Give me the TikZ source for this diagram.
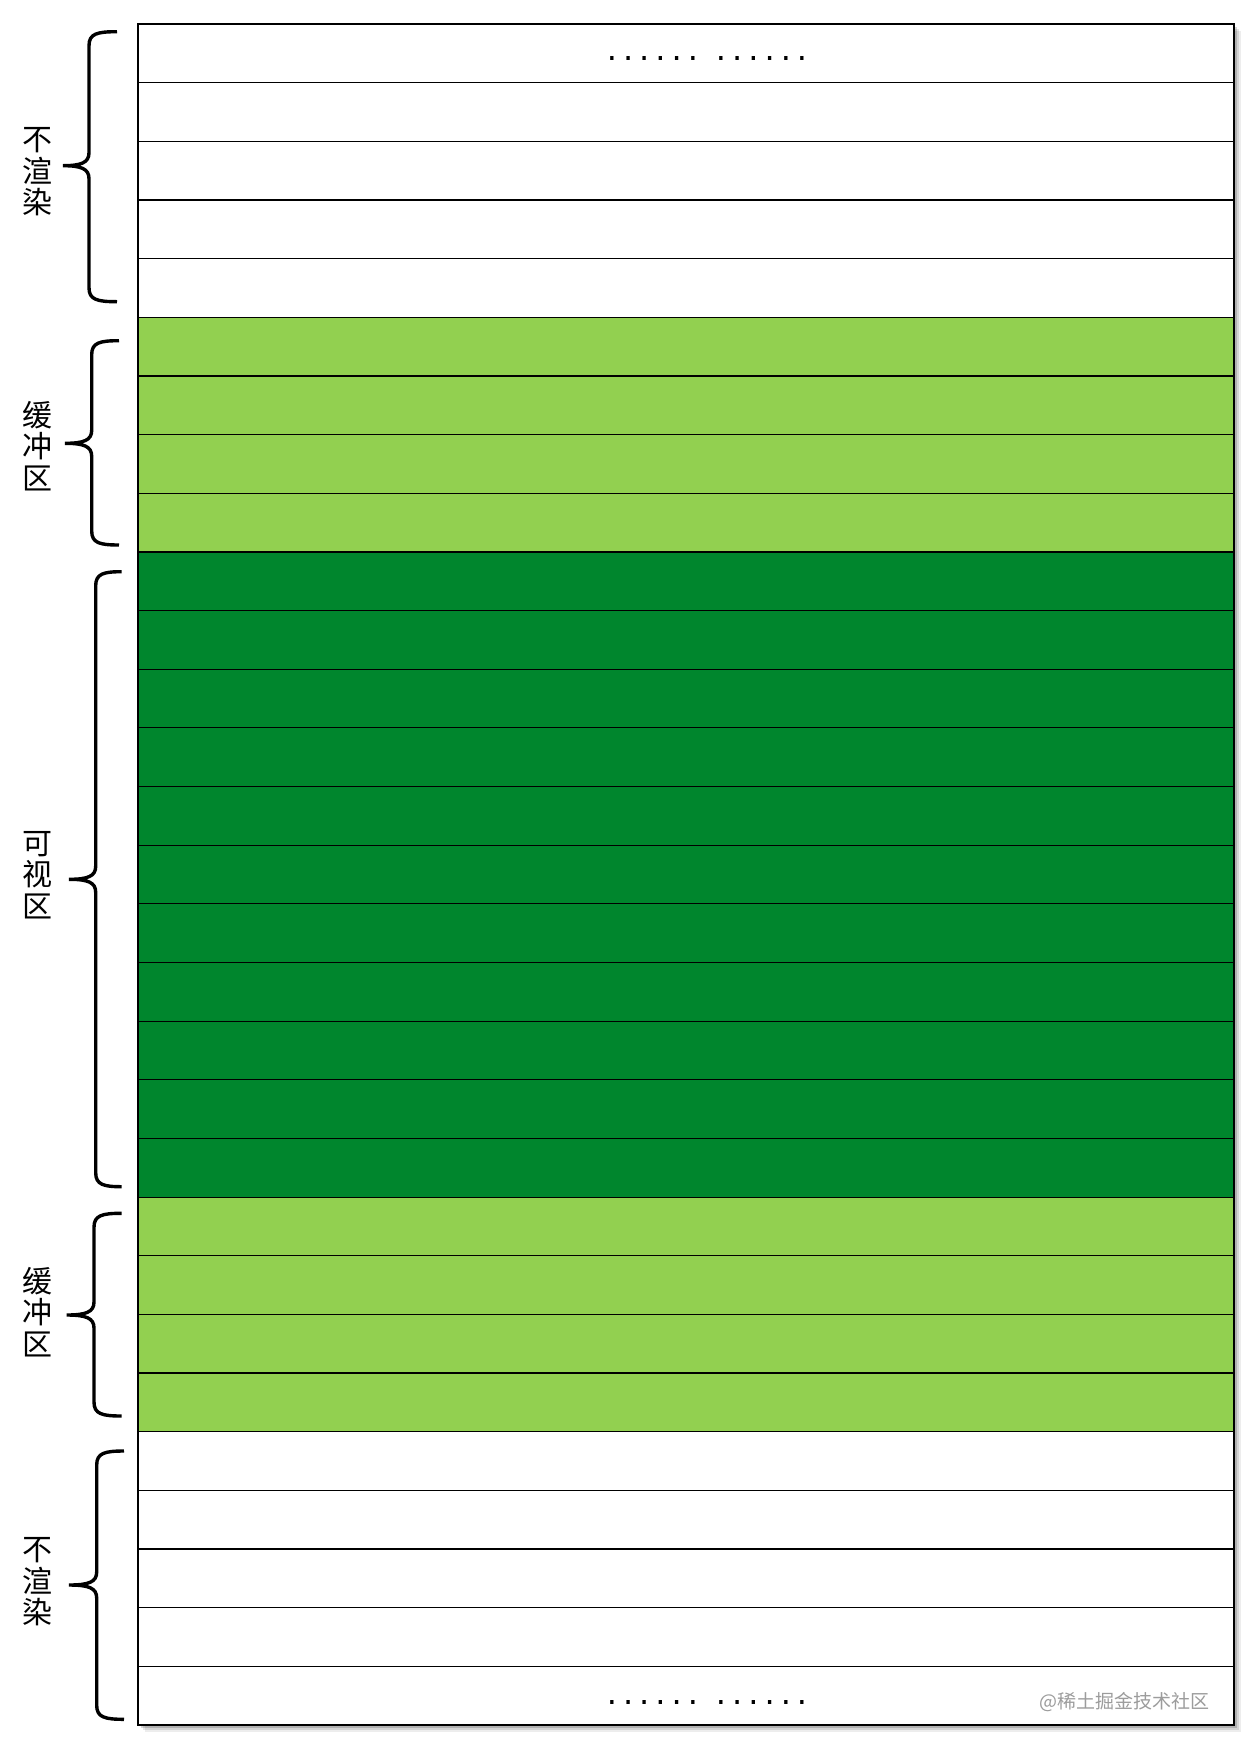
\documentclass[tikz,border=0pt]{standalone}
\usepackage{fontspec}
\newfontfamily\cjk{Noto Sans CJK SC}
\newfontfamily\dotfont{DejaVu Sans Mono}
\definecolor{lightg}{HTML}{92D050}
\definecolor{darkg}{HTML}{00862D}
\definecolor{wmgray}{HTML}{9C9C9C}
\newcommand\mybrace[6]{%
  \draw[bracestyle] (#2,#4) .. controls (#1+8,#4) and (#1,#4+2) .. (#1,#4+14)
    -- (#1,#5-13) .. controls (#1,#5-3) and (#1-8,#5) .. (#3,#5)
    .. controls (#1-8,#5) and (#1,#5+3) .. (#1,#5+13)
    -- (#1,#6-14) .. controls (#1,#6-2) and (#1+8,#6) .. (#2,#6);}
\begin{document}
\begin{tikzpicture}[x=1pt,y=-1pt,
  rowline/.style={draw=black,line width=1.2pt},
  border/.style={draw=black,line width=1.5pt},
  bracestyle/.style={draw=black,line width=3.4pt},
  lbl/.style={font=\cjk\fontsize{30}{31.5}\selectfont,align=center,inner sep=0pt},
  dotstyle/.style={font=\dotfont\fontsize{26.9}{30}\selectfont,inner sep=0pt,anchor=base},
  wm/.style={font=\cjk\fontsize{19}{22}\selectfont,text=wmgray,inner sep=0pt}]
\useasboundingbox (0,0) rectangle (1242,1748);
\fill[white] (0,0) rectangle (1242,1748);
% shadow
\foreach \o/\a in {7/0.07,5/0.1,3/0.16}
  \fill[black,opacity=\a] (138+\o,24+\o) rectangle (1234+\o,1725+\o);
% rows
\foreach \c [count=\i from 0] in {white,white,white,white,white,
  lightg,lightg,lightg,lightg,
  darkg,darkg,darkg,darkg,darkg,darkg,darkg,darkg,darkg,darkg,darkg,
  lightg,lightg,lightg,lightg,
  white,white,white,white,white}
  \draw[rowline,fill=\c] (138,{24+\i*58.655}) rectangle (1234,{24+(\i+1)*58.655});
\draw[border] (138,24) rectangle (1234,1725);
% braces
\mybrace{89}{117}{63}{31.7}{165.7}{301.7}
\mybrace{91.7}{119}{65}{340.7}{443.3}{545}
\mybrace{95.7}{121.7}{69}{571.7}{879.3}{1186.7}
\mybrace{94}{121.7}{66.7}{1213.3}{1315}{1416}
\mybrace{96.7}{124}{69}{1451}{1585}{1719.3}
% labels
\node[lbl] (t1) at (37,172) {不\\渲\\染};
\node[lbl] (t2) at (37,446) {缓\\冲\\区};
\node[lbl] (t3) at (37,875) {可\\视\\区};
\node[lbl] (t4) at (37,1312) {缓\\冲\\区};
\node[lbl] (t5) at (37,1582) {不\\渲\\染};
% dots
\node[dotstyle] (d1) at (707,60) {......\hspace{12pt}......};
\node[dotstyle] (d2) at (707,1704.5) {......\hspace{12pt}......};
% watermark
\node[wm] (wmk) at (1124,1701.7) {@稀土掘金技术社区};
\end{tikzpicture}
\end{document}
